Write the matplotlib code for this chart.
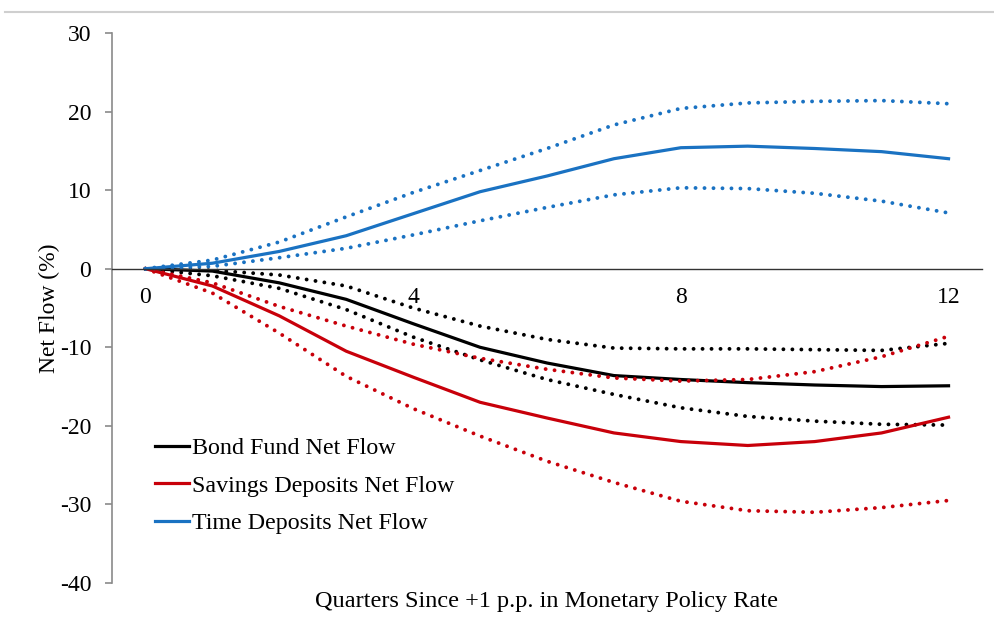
import matplotlib
matplotlib.use("Agg")
import matplotlib.pyplot as plt
from matplotlib.lines import Line2D

# --- Données ---
quarters = list(range(13))

bond = [0, -0.3, -1.8, -3.9, -7.0, -10.0, -12.0, -13.6, -14.1, -14.5, -14.8, -15.0, -14.9]
bond_hi = [0, -0.2, -0.8, -2.2, -5.0, -7.3, -9.0, -10.1, -10.2, -10.2, -10.3, -10.4, -9.5]
bond_lo = [0, -0.9, -2.5, -5.2, -8.7, -11.6, -14.1, -16.0, -17.7, -18.8, -19.4, -19.8, -19.9]

savings = [0, -2.2, -6.0, -10.5, -13.8, -17.0, -19.0, -20.9, -22.0, -22.5, -22.0, -20.9, -18.9]
savings_hi = [0, -1.8, -4.8, -7.3, -9.6, -11.4, -12.8, -13.9, -14.3, -14.1, -13.1, -11.2, -8.6]
savings_lo = [0, -3.1, -8.2, -13.7, -17.8, -21.3, -24.5, -27.2, -29.6, -30.8, -31.0, -30.4, -29.5]

time_dep = [0, 0.7, 2.2, 4.2, 7.0, 9.8, 11.8, 14.0, 15.4, 15.6, 15.3, 14.9, 14.0]
time_hi = [0, 1.1, 3.4, 6.6, 9.7, 12.5, 15.3, 18.3, 20.4, 21.1, 21.3, 21.4, 21.0]
time_lo = [0, 0.3, 1.4, 2.6, 4.3, 6.1, 7.8, 9.4, 10.3, 10.2, 9.6, 8.6, 7.1]

labels = ["Bond Fund Net Flow", "Savings Deposits Net Flow", "Time Deposits Net Flow"]
colors = ["#000000", "#c8000a", "#1a72c2"]

plt.rcParams["font.family"] = ["Liberation Serif", "DejaVu Serif"]
plt.rcParams["font.size"] = 17
plt.rcParams["axes.unicode_minus"] = False

fig = plt.figure(figsize=(9.95, 6.29), dpi=100)
ax = fig.add_axes([112 / 995, 1 - 583 / 629, 870 / 995, 550 / 629])

dot = (0, (0.01, 2.3))
series = [(bond, bond_hi, bond_lo), (savings, savings_hi, savings_lo), (time_dep, time_hi, time_lo)]
for (mid, hi, lo), c, lab in zip(series, colors, labels):
    ax.plot(quarters, hi, color=c, lw=2.8, linestyle=dot, dash_capstyle="round")
    ax.plot(quarters, lo, color=c, lw=2.8, linestyle=dot, dash_capstyle="round")
    ax.plot(quarters, mid, color=c, lw=2.3, label=lab)

ax.set_xlim(-0.5, 12.5)
ax.set_ylim(-40, 30)
ax.set_yticks(range(-40, 31, 10))
ax.set_xticks([0, 4, 8, 12])

for s in ["top", "right"]:
    ax.spines[s].set_visible(False)
ax.spines["left"].set_color("#8a8a8a")
ax.spines["left"].set_linewidth(1.2)
ax.spines["bottom"].set_position(("data", 0))
ax.spines["bottom"].set_color("#333333")
ax.spines["bottom"].set_linewidth(1.0)

ax.tick_params(axis="y", direction="out", length=5, width=1.2, color="#8a8a8a", pad=10)
ax.tick_params(axis="x", length=0, pad=13)

ax.set_ylabel("Net Flow (%)", labelpad=0)
fig.text(547 / 995, 1 - 601 / 629, "Quarters Since +1 p.p. in Monetary Policy Rate",
         ha="center", va="center", fontsize=17.5)

ax.legend(loc="upper left", bbox_to_anchor=(0.049, 0.265), frameon=False,
          borderpad=0, borderaxespad=0, handlelength=1.45, handletextpad=0.1,
          labelspacing=0.65, fontsize=17.3)

# fine ligne grise en haut de l'image
fig.add_artist(Line2D([0.005, 1.0], [1 - 12 / 629, 1 - 12 / 629],
                      transform=fig.transFigure, color="#cfcfcf", lw=1.5))

fig.savefig("out.png", dpi=100)
